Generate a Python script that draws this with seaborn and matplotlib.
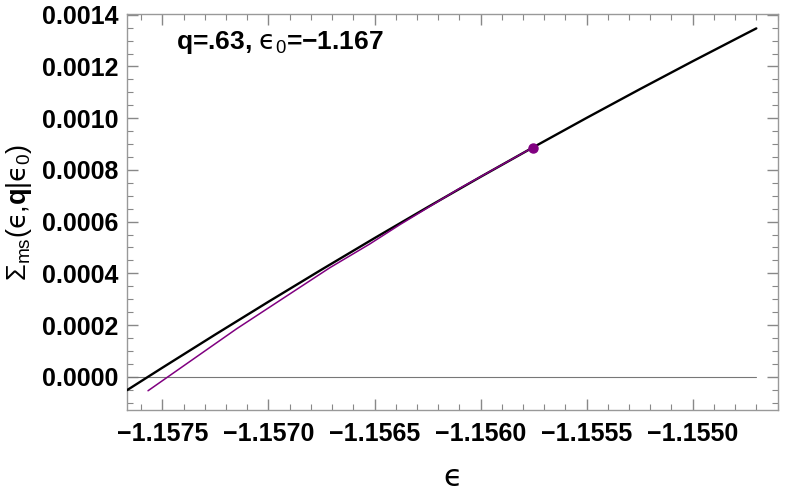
import matplotlib
matplotlib.use('Agg')
import matplotlib.pyplot as plt
import matplotlib.ticker as mticker
import seaborn as sns
import pandas as pd

# black curve, values
eps = [-1.157667, -1.15750, -1.15725, -1.15700, -1.15675, -1.15650, -1.15625,
       -1.15600, -1.15575, -1.15550, -1.15525, -1.15500, -1.15475, -1.15470]
sigma = [-0.0000518, 0.0000352, 0.0001638, 0.0002902, 0.0004143, 0.0005362, 0.0006558,
         0.0007732, 0.0008883, 0.0010012, 0.0011118, 0.0012202, 0.0013263, 0.0013473]

# purple curve ending at the marked point
tan_eps = [-1.157568, -1.157150, -1.156711, -1.156523, -1.156381, -1.156100, -1.155755]
tan_sigma = [-0.0000541, 0.0001857, 0.0004216, 0.0005133, 0.000588, 0.000728, 0.000886]
pt_eps = [-1.155755]
pt_sigma = [0.000886]

sns.set_style('ticks')
plt.rcParams['font.family'] = ['Liberation Sans', 'DejaVu Sans']
plt.rcParams['font.weight'] = 'bold'
plt.rcParams['text.color'] = 'black'
plt.rcParams['axes.labelcolor'] = 'black'
plt.rcParams['mathtext.fontset'] = 'custom'
plt.rcParams['mathtext.rm'] = 'Liberation Sans:normal'
plt.rcParams['mathtext.bf'] = 'Liberation Sans:bold'
plt.rcParams['mathtext.it'] = 'DejaVu Sans:normal'
plt.rcParams['mathtext.fallback'] = 'stixsans'

df = pd.DataFrame({'eps': eps, 'sigma': sigma})
df_tan = pd.DataFrame({'eps': tan_eps, 'sigma': tan_sigma})

fig = plt.figure(figsize=(7.89, 4.95), dpi=100)
ax = fig.add_axes([0.161, 0.172, 0.825, 0.8])

ax.plot([eps[0], eps[-1]], [0, 0], color='#777777', lw=0.8, zorder=1)
sns.lineplot(data=df, x='eps', y='sigma', color='black', lw=1.7, sort=False,
             estimator=None, ax=ax, zorder=3)
sns.lineplot(data=df_tan, x='eps', y='sigma', color='#800080', lw=1.1, sort=False,
             estimator=None, ax=ax, zorder=4)
ax.plot(pt_eps, pt_sigma, 'o', color='#800080', ms=6.5, zorder=5)

ax.set_xlim(-1.157667, -1.154598)
ax.set_ylim(-0.000128, 0.0014035)

ax.xaxis.set_major_locator(mticker.MultipleLocator(0.0005))
ax.xaxis.set_minor_locator(mticker.MultipleLocator(0.0001))
ax.yaxis.set_major_locator(mticker.MultipleLocator(0.0002))
ax.yaxis.set_minor_locator(mticker.MultipleLocator(0.00005))
ax.xaxis.set_major_formatter(mticker.FuncFormatter(lambda v, p: f'{v:.4f}'.replace('-', '\u2212')))
ax.yaxis.set_major_formatter(mticker.FuncFormatter(lambda v, p: f'{v:.4f}'.replace('-', '\u2212')))

ax.tick_params(which='both', direction='in', top=True, right=True, color='#888888',
               labelsize=18, labelcolor='black')
ax.tick_params(which='major', length=8, width=1)
ax.tick_params(which='minor', length=4.5, width=0.8)
ax.tick_params(axis='x', which='major', pad=9)
ax.tick_params(axis='y', which='major', pad=6)
for s in ax.spines.values():
    s.set_color('#999999')
    s.set_linewidth(1)

ax.set_xlabel('\u03f5', fontsize=22, fontweight='normal', family='DejaVu Sans', labelpad=12)
ax.set_ylabel('$\\Sigma_{\\mathrm{ms}}(\u03f5{,}\\mathbf{q}|\u03f5_0)$', fontsize=19.5, labelpad=6)

ax.text(0.075, 0.927, 'q=.63, $\u03f5_0$=\u22121.167', transform=ax.transAxes,
        fontsize=19, fontweight='bold', va='center', ha='left', color='black')

fig.savefig('out.png', dpi=100)
